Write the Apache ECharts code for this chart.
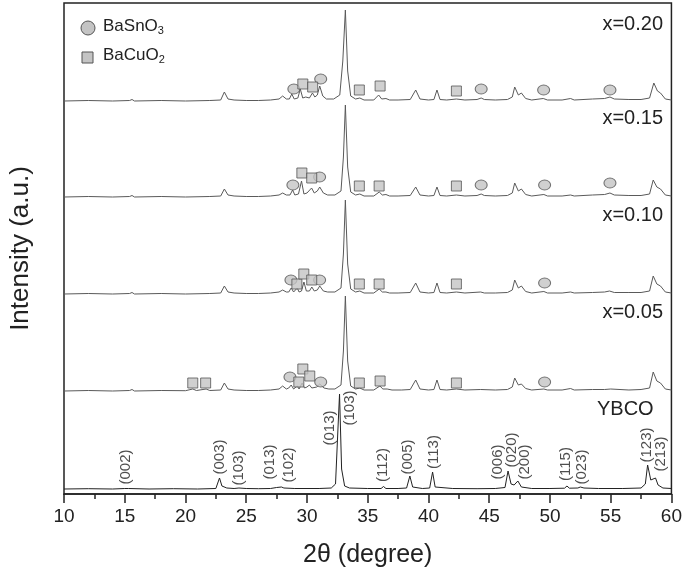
<!DOCTYPE html>
<html>
<head>
<meta charset="utf-8">
<script src="https://cdn.jsdelivr.net/npm/echarts@6/dist/echarts.min.js"></script>
<style>html,body{margin:0;padding:0;background:#fff}#c{width:685px;height:578px}</style>
</head>
<body>
<div id="c"></div>
<script>
// ---- data (2θ in degree, intensity in a.u.) ----
const sampleNames = ['YBCO', 'x=0.05', 'x=0.10', 'x=0.15', 'x=0.20'];
const offsets = [5, 103, 200, 297, 393];

const ybco = [[10,0],[12,0.3],[14,0],[15.0,0.5],[15.15,2],[15.3,0.5],[17,0],[19,0.3],[21,0],[22.5,0.5],[22.8,11],[23.0,3],[23.4,1],[24.0,0.5],[24.4,1],[25,0.5],[26,0.3],[27,0.5],[27.5,1.5],[27.65,3],[27.9,2],[28.1,1],[29,0.5],[31,0.5],[32.0,1],[32.35,5],[32.55,60],[32.68,95],[32.85,20],[33.1,3],[33.5,1],[35,0.5],[36.1,0.5],[36.3,2.5],[36.5,0.5],[37.5,0.5],[38.2,1],[38.47,13],[38.7,2],[39.5,0.5],[40.1,1],[40.34,17],[40.55,2],[42,0.5],[44,0.3],[45.5,0.5],[46.3,1.5],[46.55,18],[46.8,5],[47.05,4],[47.36,8],[47.65,2],[48.5,0.5],[50,0.5],[51.2,0.8],[51.4,3],[51.6,0.8],[52.3,1],[52.5,2],[52.8,1],[54,0.5],[56,0.5],[57.5,1],[57.85,5],[58.04,24],[58.3,9],[58.69,11],[58.9,4],[59.3,1],[60,0.5]];

const x005 = [[10,0],[12,0.5],[14,0],[15.4,0.5],[15.6,1.5],[15.8,0],[18,0.5],[20,0.3],[20.6,2],[20.9,0.5],[21.7,2],[22.0,0.5],[22.9,1],[23.2,8],[23.5,2],[24,1],[25,0.5],[26,0.5],[27,1],[27.7,2],[28.0,5],[28.3,2],[28.5,3],[28.7,6],[28.9,2],[29.2,5],[29.35,2],[29.6,8],[29.8,3],[30.0,4],[30.2,6],[30.4,3],[30.8,4],[31.05,7],[31.4,3],[31.8,2],[32.3,2],[32.8,6],[33.0,40],[33.16,95],[33.35,30],[33.6,5],[34.0,2],[34.35,3],[34.7,1],[35.5,1],[36.0,5],[36.25,2],[36.6,2],[37,1],[37.8,1],[38.5,1.5],[38.95,11],[39.3,2],[40.0,1],[40.45,1.5],[40.7,11],[40.95,1.5],[41.5,1],[42.3,2],[43,1],[44.3,1.5],[45.5,1],[46.5,1.5],[46.9,4],[47.1,13],[47.4,6],[47.65,7],[48.0,2.5],[48.5,1],[49.5,2],[49.8,1],[51.0,1],[51.7,2.5],[52.0,1],[53.5,1.5],[54.5,1.5],[55.0,2],[56.5,1],[57.5,1.5],[58.2,3],[58.5,19],[58.8,10],[59.1,8],[59.5,2],[60,1]];

const x010 = [[10,0],[12,0.5],[14,0],[15.4,0.5],[15.6,1.5],[15.8,0],[18,0.5],[20,0],[22,0.5],[22.9,1],[23.2,8],[23.5,2],[24,1],[25,0.5],[26,0.5],[27,1],[27.7,2],[28.0,4],[28.3,2],[28.5,2],[28.7,6],[28.9,2],[29.05,3],[29.2,6],[29.35,2],[29.55,3],[29.75,12],[29.95,3],[30.2,3],[30.4,7],[30.6,3],[30.85,4],[31.05,8],[31.35,3],[31.7,2],[32.3,2],[32.8,6],[33.0,40],[33.16,94],[33.35,30],[33.6,5],[34.0,2],[34.35,3],[34.7,1],[35.5,1],[35.95,5],[36.2,2],[36.5,2],[36.8,1],[37.5,1],[38.5,1.5],[38.95,11],[39.3,2],[40.0,1],[40.45,1.5],[40.7,11],[40.95,1.5],[41.5,1],[42.3,2],[43,1],[44.3,2],[44.6,1],[45.5,1],[46.5,1.5],[46.9,4],[47.1,14],[47.4,6],[47.65,8],[48.0,2.5],[48.5,1],[49.5,2.5],[49.8,1],[51.0,1],[51.7,2],[52.0,1],[53.5,1.5],[54.5,2],[54.9,3],[55.3,1.5],[56.5,1.5],[57.5,1.5],[58.2,3],[58.5,18],[58.8,10],[59.1,8],[59.5,2],[60,1]];

const x015 = [[10,0],[12,0.5],[14,0],[15.4,0.5],[15.6,1.5],[15.8,0],[18,0.5],[20,0],[22,0.5],[22.9,1],[23.2,8],[23.5,2],[24,1],[25,0.5],[26,0.5],[27,1],[27.7,2],[28.0,4],[28.3,2],[28.6,2],[28.82,7],[29.0,2],[29.3,3],[29.55,16],[29.75,3],[30.0,4],[30.15,4],[30.38,9],[30.6,4],[30.85,6],[31.05,10],[31.35,4],[31.7,2],[32.3,2],[32.8,6],[33.0,40],[33.16,92],[33.35,30],[33.6,5],[34.0,2],[34.35,3],[34.7,1],[35.5,1],[35.95,5],[36.2,2],[36.5,2.5],[36.8,1],[37.5,1],[38.5,1.5],[38.95,10],[39.3,2],[40.0,1],[40.45,1.5],[40.7,10],[40.95,1.5],[41.5,1],[42.3,2],[43,1],[44.0,1.5],[44.34,3],[44.6,1.5],[45.5,1],[46.5,1.5],[46.9,4],[47.1,14],[47.4,6],[47.65,8],[48.0,2.5],[48.5,1],[49.5,2.5],[49.8,1],[51.0,1],[51.7,2],[52.0,1],[53.5,2],[54.5,2.5],[54.94,4],[55.3,2],[56.5,1.5],[57.5,1.5],[58.2,3],[58.5,17],[58.8,10],[59.1,8],[59.5,2],[60,1]];

const x020 = [[10,0],[12,0.5],[14,0],[15.4,0.5],[15.6,1.5],[15.8,0],[18,0.5],[20,0],[22,0.5],[22.9,1],[23.2,9],[23.5,2],[24,1],[25,0.5],[26,0.5],[27,1],[27.7,2],[28.0,5],[28.3,2],[28.55,2],[28.75,7],[28.95,2],[29.25,3],[29.45,12],[29.65,3],[29.9,4],[30.05,5],[30.2,3],[30.45,8],[30.65,4],[30.85,6],[31.05,15],[31.3,5],[31.6,2],[32.2,2],[32.7,6],[32.95,40],[33.16,91],[33.35,30],[33.6,5],[34.0,2],[34.35,3],[34.7,1],[35.5,1],[35.9,6],[36.15,2],[36.5,2.5],[36.8,1],[37.5,1],[38.5,1.5],[38.95,11],[39.3,2],[40.0,1],[40.45,1.5],[40.7,11],[40.95,1.5],[41.5,1],[42.3,2],[43,1],[44.0,1.5],[44.34,3],[44.6,1.5],[45.5,1],[46.5,1.5],[46.9,4],[47.1,14],[47.4,6],[47.65,8],[48.0,2.5],[48.5,1],[49.45,2.5],[49.8,1],[51.0,1],[51.7,2.5],[52.0,1],[53.5,2],[54.5,2.5],[54.94,4],[55.3,2],[56.5,1.5],[57.5,1.5],[58.2,3],[58.55,18],[58.85,10],[59.1,8],[59.5,2],[60,1]];

const patterns = [ybco, x005, x010, x015, x020];

// phase markers [2θ, intensity position]
const basno3Marks = [[28.92,405],[31.13,415],[44.34,405],[49.48,404],[54.94,404],
  [28.84,309],[31.04,317],[44.34,309],[49.56,309],[54.94,311],
  [28.68,214],[31.04,214],[49.56,211],
  [28.60,117],[31.13,112],[49.56,112]];
const bacuo2Marks = [[29.66,410],[30.47,407],[34.31,404],[36.02,408],[42.30,403],
  [29.58,321],[30.39,316],[34.31,308],[35.94,308],[42.30,308],
  [29.17,210],[29.74,220],[30.39,214],[34.31,210],[35.94,210],[42.30,210],
  [20.60,111],[21.66,111],[29.33,112],[29.66,125],[30.23,118],[34.31,111],[36.02,113],[42.30,111]];

// YBCO reflections
const hklNames = ['(002)','(003)','(103)','(013)','(102)','(013)','(103)','(112)','(005)','(113)','(006)','(020)','(200)','(115)','(023)','(123)','(213)'];
const hklTheta = [15.06,22.81,24.36,26.97,28.52,31.86,33.49,36.26,38.30,40.42,45.73,46.87,47.93,51.35,52.66,57.96,59.10];
const hklLevel = [27,37,26,32,29,66,86,29,37,42,32,44,32,30,27,49,40];

const xTicks = [10,15,20,25,30,35,40,45,50,55,60];

// ---- chart ----
const chart = echarts.init(document.getElementById('c'));
const font = 'Liberation Sans, Arial, sans-serif';
const markFill = '#c4c4c4', markLine = '#555';
const series = patterns.map((p, k) => ({
  type: 'line', name: sampleNames[k], showSymbol: false, silent: true,
  lineStyle: { width: 1, color: k === 0 ? '#222' : '#5a5a5a' },
  data: p.map(([t, v]) => [t, v + offsets[k]]), z: 2
}));
series.push({
  type: 'scatter', name: 'BaSnO3', symbol: 'circle', symbolSize: [12, 10],
  itemStyle: { color: markFill, borderColor: markLine, borderWidth: 1 },
  data: basno3Marks, z: 5
});
series.push({
  type: 'scatter', name: 'BaCuO2', symbol: 'rect', symbolSize: [10, 10],
  itemStyle: { color: markFill, borderColor: markLine, borderWidth: 1 },
  data: bacuo2Marks, z: 5
});
series.push({
  type: 'scatter', symbolSize: 0, silent: true,
  data: hklNames.map((n, i) => ({ name: n, value: [hklTheta[i], hklLevel[i]] })),
  label: { show: true, position: 'inside', rotate: 90, formatter: p => p.name,
    fontSize: 15, color: '#222', fontFamily: font },
  z: 6
});

const legendRich = { s: { fontSize: 11, fill: '#222', fontFamily: font, padding: [9, 0, 0, 0] } };

chart.setOption({
  animation: false,
  backgroundColor: '#fff',
  grid: { left: 60, right: 12, top: 3, bottom: 84, show: true, borderColor: '#222', borderWidth: 1.5 },
  xAxis: {
    type: 'value', min: 10, max: 60, interval: 5,
    name: '2θ (degree)', nameLocation: 'middle', nameGap: 49,
    nameTextStyle: { fontSize: 25, color: '#222', fontFamily: font },
    axisLine: { show: true, lineStyle: { color: '#222', width: 1.5 } },
    axisTick: { show: true, inside: false, length: 9, lineStyle: { color: '#222', width: 1.5 } },
    minorTick: { show: true, splitNumber: 2, length: 5, lineStyle: { color: '#222', width: 1.5 } },
    axisLabel: { fontSize: 19, color: '#222', fontFamily: font, margin: 13,
      formatter: v => xTicks.includes(v) ? String(v) : '' },
    splitLine: { show: false }
  },
  yAxis: {
    type: 'value', min: 0, max: 491,
    name: 'Intensity (a.u.)', nameLocation: 'middle', nameGap: 30,
    nameTextStyle: { fontSize: 26, color: '#222', fontFamily: font },
    axisLine: { show: false }, axisTick: { show: false }, axisLabel: { show: false },
    splitLine: { show: false }
  },
  graphic: [
    { type: 'circle', shape: { cx: 88, cy: 28, r: 7 }, style: { fill: markFill, stroke: markLine, lineWidth: 1 } },
    { type: 'rect', shape: { x: 82, y: 52, width: 11, height: 11 }, style: { fill: markFill, stroke: markLine, lineWidth: 1 } },
    { type: 'text', left: 103, top: 18, style: { text: 'BaSnO{s|3}', fontSize: 17, fill: '#222', fontFamily: font, rich: legendRich } },
    { type: 'text', left: 103, top: 47, style: { text: 'BaCuO{s|2}', fontSize: 17, fill: '#222', fontFamily: font, rich: legendRich } },
    { type: 'text', right: 22, top: 14, style: { text: 'x=0.20', fontSize: 20, fill: '#222', fontFamily: font } },
    { type: 'text', right: 22, top: 108, style: { text: 'x=0.15', fontSize: 20, fill: '#222', fontFamily: font } },
    { type: 'text', right: 22, top: 205, style: { text: 'x=0.10', fontSize: 20, fill: '#222', fontFamily: font } },
    { type: 'text', right: 22, top: 302, style: { text: 'x=0.05', fontSize: 20, fill: '#222', fontFamily: font } },
    { type: 'text', left: 597, top: 399, style: { text: 'YBCO', fontSize: 20, fill: '#222', fontFamily: font } }
  ],
  series: series
});
</script>
</body>
</html>
